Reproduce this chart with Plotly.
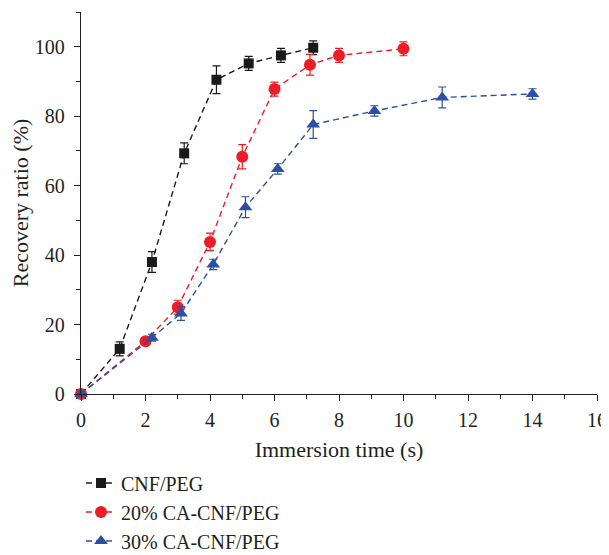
import plotly.graph_objects as go

# CNF/PEG
x_cnf = [0, 1.2, 2.2, 3.2, 4.2, 5.2, 6.2, 7.2]
y_cnf = [0, 13.0, 38.0, 69.3, 90.5, 95.2, 97.5, 99.7]
e_cnf = [0, 2.0, 3.0, 3.0, 4.0, 2.0, 2.0, 2.0]

# 20% CA-CNF/PEG
x_20 = [0, 2.0, 3.0, 4.0, 5.0, 6.0, 7.1, 8.0, 10.0]
y_20 = [0, 15.2, 25.0, 43.8, 68.3, 87.8, 94.8, 97.5, 99.4]
e_20 = [0, 1.0, 2.0, 2.5, 3.5, 2.0, 3.0, 2.0, 2.0]

# 30% CA-CNF/PEG
x_30 = [0, 2.2, 3.1, 4.1, 5.1, 6.1, 7.2, 9.1, 11.2, 14.0]
y_30 = [0, 16.2, 23.2, 37.3, 53.8, 64.8, 77.6, 81.5, 85.4, 86.4]
e_30 = [0, 1.0, 2.0, 1.5, 3.0, 1.5, 4.0, 1.5, 3.0, 1.5]

names = ["CNF/PEG", "20% CA-CNF/PEG", "30% CA-CNF/PEG"]
colors = ["#1a1a1a", "#ee1c25", "#2d4fa1"]
symbols = ["square", "circle", "triangle-up"]
sizes = [10, 12, 12]

FONT = "Liberation Serif"

fig = go.Figure()
for xs, ys, es, nm, c, s, sz in zip(
    [x_cnf, x_20, x_30], [y_cnf, y_20, y_30], [e_cnf, e_20, e_30],
    names, colors, symbols, sizes):
    fig.add_trace(go.Scatter(
        x=xs, y=ys, name=nm, mode="lines+markers",
        line=dict(color=c, width=1.4, dash="6px,4px"),
        marker=dict(symbol=s, size=sz, color=c),
        error_y=dict(type="data", array=es, visible=True, color=c,
                     thickness=1.2, width=4),
        cliponaxis=False,
    ))

fig.update_layout(
    width=609, height=563,
    margin=dict(l=73, r=20, t=4, b=177),
    paper_bgcolor="white", plot_bgcolor="white",
    font=dict(family=FONT, size=20, color="#231f20"),
    showlegend=True,
    legend=dict(x=0.0, y=-0.182, xanchor="left", yanchor="top",
                font=dict(family=FONT, size=20, color="#231f20"),
                tracegroupgap=0, itemsizing="trace", borderwidth=0,
                bgcolor="rgba(0,0,0,0)"),
    xaxis=dict(
        range=[0, 16], dtick=2, tick0=0, automargin=False,
        showline=True, linecolor="#231f20", linewidth=1.3,
        ticks="outside", ticklen=6, tickwidth=1.2, tickcolor="#231f20",
        ticklabelstandoff=2,
        minor=dict(dtick=1, ticks="outside", ticklen=4, tickcolor="#231f20", tickwidth=1.2),
        showgrid=False, zeroline=False,
        tickfont=dict(family=FONT, size=20),
        title=dict(text="Immersion time (s)", font=dict(family=FONT, size=22), standoff=11),
    ),
    yaxis=dict(
        range=[0, 110], tickvals=[0, 20, 40, 60, 80, 100], automargin=False,
        showline=True, linecolor="#231f20", linewidth=1.3,
        ticks="outside", ticklen=6, tickwidth=1.2, tickcolor="#231f20",
        ticklabelstandoff=5,
        minor=dict(tickvals=[10, 30, 50, 70, 90, 110], ticks="outside", ticklen=4,
                   tickcolor="#231f20", tickwidth=1.2),
        showgrid=False, zeroline=False,
        tickfont=dict(family=FONT, size=20),
        title=dict(text="Recovery ratio (%)", font=dict(family=FONT, size=22), standoff=5),
    ),
)

fig.write_html("out.html")
